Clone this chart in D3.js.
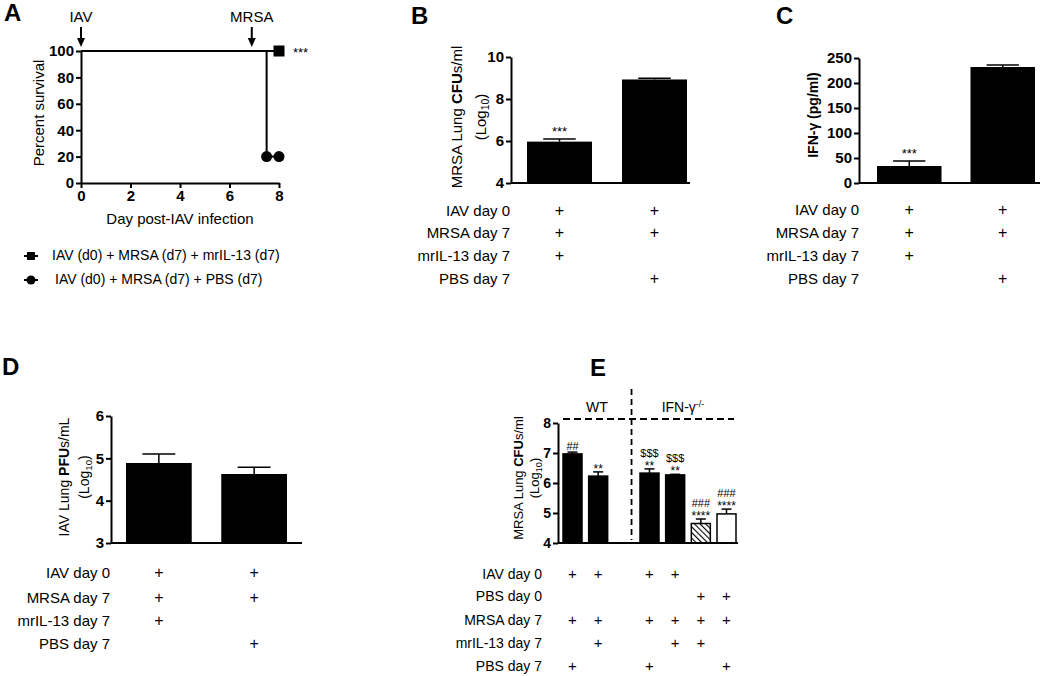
<!DOCTYPE html>
<html><head><meta charset="utf-8">
<script src="https://cdn.jsdelivr.net/npm/d3@7"></script>
<style>
body{margin:0;background:#fff;}
svg{display:block;font-family:Arial,"Liberation Sans",Helvetica,sans-serif;}
</style></head>
<body>
<svg id="c" width="1050" height="676"></svg>
<script>
// ---------- DATA ----------
// Panel A: survival
const survivalTicks = [0, 20, 40, 60, 80, 100];
const dayTicks = [0, 2, 4, 6, 8];
const survIL13 = [[0, 100], [8, 100]];
const survPBS = [[0, 100], [7.5, 100], [7.5, 20], [8, 20]];
const survIL13Markers = [[8, 100]];
const survPBSMarkers = [[7.5, 20], [8, 20]];
const legendLabels = ["IAV (d0) + MRSA (d7) + mrIL-13 (d7)", "IAV (d0) + MRSA (d7) + PBS (d7)"];
// Panel B
const bValues = [5.97, 8.93];
const bErrors = [0.12, 0.06];
const bTicks = [4, 6, 8, 10];
const bStars = ["***", ""];
// Panel C
const cValues = [34, 232];
const cErrors = [10, 4];
const cTicks = [0, 50, 100, 150, 200, 250];
const cStars = ["***", ""];
// Panel D
const dValues = [4.89, 4.63];
const dErrors = [0.21, 0.16];
const dTicks = [3, 4, 5, 6];
// Shared treatment table for B, C, D
const rowLabels3 = ["IAV day 0", "MRSA day 7", "mrIL-13 day 7", "PBS day 7"];
const rowPlus3 = [[1, 1], [1, 1], [1, 0], [0, 1]];
// Panel E
const eSlots = [0, 1, 3, 4, 5, 6];
const eValues = [6.97, 6.23, 6.33, 6.27, 4.65, 4.97];
const eErrors = [0.06, 0.14, 0.14, 0.02, 0.15, 0.16];
const eFill = ["solid", "solid", "solid", "solid", "hatch", "white"];
const eTop = ["##", "", "$$$", "$$$", "###", "###"];
const eStar = ["", "**", "**", "**", "****", "****"];
const eTicks = [4, 5, 6, 7, 8];
const rowLabelsE = ["IAV day 0", "PBS day 0", "MRSA day 7", "mrIL-13 day 7", "PBS day 7"];
const rowPlusE = [
  [1, 1, 1, 1, 0, 0],
  [0, 0, 0, 0, 1, 1],
  [1, 1, 1, 1, 1, 1],
  [0, 1, 0, 1, 1, 0],
  [1, 0, 1, 0, 0, 1]
];

// ---------- DRAW ----------
const FONT = "Arial,'Liberation Sans',Helvetica,sans-serif";
const svg = d3.select("#c");
const defs = svg.append("defs");
const pat = defs.append("pattern").attr("id", "hatch").attr("patternUnits", "userSpaceOnUse")
  .attr("width", 4).attr("height", 4).attr("patternTransform", "rotate(-45)");
pat.append("rect").attr("width", 4).attr("height", 4).attr("fill", "#fff");
pat.append("line").attr("x1", 0).attr("y1", 0).attr("x2", 0).attr("y2", 4)
  .attr("stroke", "#000").attr("stroke-width", 2.2);

function panelLetter(t, x, y) {
  svg.append("text").attr("x", x).attr("y", y).attr("font-size", 24).attr("font-weight", "bold").text(t);
}

function styleAxis(a, fs) {
  a.attr("font-family", FONT);
  a.select(".domain").attr("stroke-width", 2);
  a.selectAll(".tick line").attr("stroke-width", 2);
  a.selectAll(".tick text").attr("font-size", fs).style("font-weight", "bold").attr("fill", "#000")
    .style("font-family", FONT);
}

function yAxis(g, scale, ticks, x, fs) {
  const ax = d3.axisLeft(scale).tickValues(ticks).tickFormat(d3.format("d")).tickSize(5).tickPadding(2).tickSizeOuter(0);
  const a = g.append("g").attr("transform", `translate(${x},0)`).call(ax);
  styleAxis(a, fs);
  return a;
}

function logTitle(g, x1, x2, cy, main, bold, tail, fs) {
  const t = g.append("text").attr("transform", `translate(${x1},${cy}) rotate(-90)`)
    .attr("text-anchor", "middle").attr("font-size", fs);
  t.append("tspan").text(main);
  t.append("tspan").attr("font-weight", "bold").text(bold);
  t.append("tspan").text(tail);
  const t2 = g.append("text").attr("transform", `translate(${x2},${cy}) rotate(-90)`)
    .attr("text-anchor", "middle").attr("font-size", fs);
  t2.append("tspan").text("(Log");
  t2.append("tspan").attr("font-size", fs * 0.7).attr("dy", 3).text("10");
  t2.append("tspan").attr("dy", -3).text(")");
}

function plusTable(g, labels, table, xs, ys, labelX, fs) {
  labels.forEach((l, i) => {
    g.append("text").attr("x", labelX).attr("y", ys[i]).attr("text-anchor", "end")
      .attr("dominant-baseline", "middle").attr("font-size", fs).text(l);
    table[i].forEach((p, j) => {
      if (p) g.append("text").attr("x", xs[j]).attr("y", ys[i]).attr("text-anchor", "middle")
        .attr("dominant-baseline", "middle").attr("font-size", fs + 1).text("+");
    });
  });
}

function barPanel(opt) {
  const g = svg.append("g");
  const y = d3.scaleLinear().domain(opt.domain).range([opt.y0, opt.y1]);
  const x = d3.scaleBand().domain(d3.range(opt.values.length)).range(opt.xr).paddingInner(opt.pad).paddingOuter(0);
  const bw = x.bandwidth();
  opt.values.forEach((v, i) => {
    const cx = x(i) + bw / 2;
    const ye = y(v + opt.errors[i]);
    g.append("line").attr("x1", cx).attr("x2", cx).attr("y1", y(v)).attr("y2", ye).attr("stroke", "#000").attr("stroke-width", 1.5);
    g.append("line").attr("x1", cx - bw * 0.25).attr("x2", cx + bw * 0.25).attr("y1", ye).attr("y2", ye).attr("stroke", "#000").attr("stroke-width", 1.5);
    if (opt.stars && opt.stars[i]) g.append("text").attr("x", cx).attr("y", ye - 3).attr("text-anchor", "middle")
      .attr("font-size", 13).text(opt.stars[i]);
  });
  g.selectAll("rect.bar").data(opt.values).join("rect").attr("class", "bar")
    .attr("x", (d, i) => x(i)).attr("width", bw)
    .attr("y", d => y(d)).attr("height", d => y(opt.domain[0]) - y(d)).attr("fill", "#000");
  g.append("line").attr("x1", opt.axisX).attr("x2", opt.baseEnd).attr("y1", opt.y0).attr("y2", opt.y0)
    .attr("stroke", "#000").attr("stroke-width", 2);
  yAxis(g, y, opt.ticks, opt.axisX, 15);
  const xs = opt.values.map((d, i) => x(i) + bw / 2);
  plusTable(g, rowLabels3, rowPlus3, xs, opt.rowYs, opt.labelX, 15);
  return g;
}

// ---------- Panel A ----------
(function () {
  const g = svg.append("g");
  panelLetter("A", 4, 21);
  const x = d3.scaleLinear().domain([0, 8]).range([81, 279]);
  const y = d3.scaleLinear().domain([0, 100]).range([183, 51]);
  const ax = d3.axisBottom(x).tickValues(dayTicks).tickFormat(d3.format("d")).tickSize(5).tickPadding(2).tickSizeOuter(0);
  const a = g.append("g").attr("transform", "translate(0,183)").call(ax);
  styleAxis(a, 15);
  yAxis(g, y, survivalTicks, 81, 15);
  const line = d3.line().x(d => x(d[0])).y(d => y(d[1]));
  g.append("path").attr("d", line(survPBS)).attr("fill", "none").attr("stroke", "#000").attr("stroke-width", 2);
  g.append("path").attr("d", line(survIL13)).attr("fill", "none").attr("stroke", "#000").attr("stroke-width", 2);
  survIL13Markers.forEach(d => g.append("rect").attr("x", x(d[0]) - 5.5).attr("y", y(d[1]) - 5.5).attr("width", 11).attr("height", 11).attr("fill", "#000"));
  survPBSMarkers.forEach(d => g.append("circle").attr("cx", x(d[0])).attr("cy", y(d[1])).attr("r", 5.5).attr("fill", "#000"));
  g.append("text").attr("x", x(8) + 14).attr("y", y(100) + 6).attr("font-size", 13).text("***");
  [[0, "IAV"], [6.9, "MRSA"]].forEach(([d, lab]) => {
    const cx = x(d);
    g.append("text").attr("x", cx).attr("y", 22).attr("text-anchor", "middle").attr("font-size", 15).text(lab);
    g.append("line").attr("x1", cx).attr("x2", cx).attr("y1", 27).attr("y2", 40).attr("stroke", "#000").attr("stroke-width", 2);
    g.append("path").attr("d", `M${cx - 4},38 L${cx + 4},38 L${cx},47 Z`).attr("fill", "#000");
  });
  g.append("text").attr("transform", "translate(44,113) rotate(-90)").attr("text-anchor", "middle").attr("font-size", 15).text("Percent survival");
  g.append("text").attr("x", 180).attr("y", 224).attr("text-anchor", "middle").attr("font-size", 15).text("Day post-IAV infection");
  const ly = [256, 280];
  g.append("line").attr("x1", 24).attr("x2", 38).attr("y1", ly[0]).attr("y2", ly[0]).attr("stroke", "#000").attr("stroke-width", 2);
  g.append("rect").attr("x", 27).attr("y", ly[0] - 4).attr("width", 8).attr("height", 8).attr("fill", "#000");
  g.append("line").attr("x1", 24).attr("x2", 38).attr("y1", ly[1]).attr("y2", ly[1]).attr("stroke", "#000").attr("stroke-width", 2);
  g.append("circle").attr("cx", 31).attr("cy", ly[1]).attr("r", 4.5).attr("fill", "#000");
  legendLabels.forEach((l, i) => g.append("text").attr("x", i === 0 ? 52 : 55).attr("y", ly[i]).attr("dominant-baseline", "middle").attr("font-size", 14).text(l));
})();

// ---------- Panel B ----------
panelLetter("B", 411, 24);
(function () {
  const g = barPanel({ values: bValues, errors: bErrors, domain: [4, 10], ticks: bTicks, y0: 183, y1: 57,
    xr: [527, 687], pad: 0.316, axisX: 511, baseEnd: 690, stars: bStars,
    rowYs: [212, 234, 257, 280], labelX: 510 });
  logTitle(g, 462, 486, 117, "MRSA Lung ", "CFU", "s/ml", 15);
})();

// ---------- Panel C ----------
panelLetter("C", 776, 24);
(function () {
  const g = barPanel({ values: cValues, errors: cErrors, domain: [0, 250], ticks: cTicks, y0: 183, y1: 58,
    xr: [877, 1035], pad: 0.31, axisX: 859, baseEnd: 1040, stars: cStars,
    rowYs: [211, 234, 257, 280], labelX: 859 });
  g.append("text").attr("transform", "translate(818,115) rotate(-90)").attr("text-anchor", "middle")
    .attr("font-size", 14).attr("font-weight", "bold").text("IFN-γ (pg/ml)");
})();

// ---------- Panel D ----------
panelLetter("D", 2, 375);
(function () {
  const g = barPanel({ values: dValues, errors: dErrors, domain: [3, 6], ticks: dTicks, y0: 543, y1: 416,
    xr: [126, 287], pad: 0.31, axisX: 111, baseEnd: 302,
    rowYs: [574, 599, 622, 645], labelX: 110 });
  logTitle(g, 69, 89, 477, "IAV Lung ", "PFU", "s/mL", 14);
})();

// ---------- Panel E ----------
panelLetter("E", 590, 376);
(function () {
  const g = svg.append("g");
  const y = d3.scaleLinear().domain([4, 8]).range([543, 423]);
  const x = d3.scaleLinear().domain([0, 6]).range([572.5, 726.5]);
  const bw = 19;
  eValues.forEach((v, i) => {
    const cx = x(eSlots[i]);
    const ye = y(v + eErrors[i]);
    g.append("line").attr("x1", cx).attr("x2", cx).attr("y1", y(v)).attr("y2", ye).attr("stroke", "#000").attr("stroke-width", 1.5);
    g.append("line").attr("x1", cx - 5).attr("x2", cx + 5).attr("y1", ye).attr("y2", ye).attr("stroke", "#000").attr("stroke-width", 1.5);
    let ty = ye - 2;
    if (eStar[i]) { g.append("text").attr("x", cx).attr("y", ty + 3).attr("text-anchor", "middle").attr("font-size", 12).text(eStar[i]); ty -= 10; }
    if (eTop[i]) g.append("text").attr("x", cx).attr("y", ty).attr("text-anchor", "middle").attr("font-size", 11).text(eTop[i]);
  });
  g.selectAll("rect.bar").data(eValues).join("rect").attr("class", "bar")
    .attr("x", (d, i) => x(eSlots[i]) - bw / 2).attr("width", bw)
    .attr("y", d => y(d)).attr("height", d => y(4) - y(d))
    .attr("fill", (d, i) => eFill[i] === "solid" ? "#000" : eFill[i] === "hatch" ? "url(#hatch)" : "#fff")
    .attr("stroke", "#000").attr("stroke-width", 1.5);
  g.append("line").attr("x1", 558).attr("x2", 738).attr("y1", 543).attr("y2", 543).attr("stroke", "#000").attr("stroke-width", 2);
  yAxis(g, y, eTicks, 558, 14);
  const sepX = x(2.3);
  g.append("line").attr("x1", sepX).attr("x2", sepX).attr("y1", 389).attr("y2", 540).attr("stroke", "#000").attr("stroke-width", 1.8).attr("stroke-dasharray", "6,4");
  g.append("line").attr("x1", 563).attr("x2", 734).attr("y1", 419).attr("y2", 419).attr("stroke", "#000").attr("stroke-width", 1.8).attr("stroke-dasharray", "7,4");
  g.append("text").attr("x", 597).attr("y", 412).attr("text-anchor", "middle").attr("font-size", 14).text("WT");
  const t = g.append("text").attr("x", 683).attr("y", 412).attr("text-anchor", "middle").attr("font-size", 14);
  t.append("tspan").text("IFN-γ");
  t.append("tspan").attr("font-size", 9).attr("dy", -5).text("-/-");
  logTitle(g, 523, 539, 478, "MRSA Lung ", "CFU", "s/ml", 13);
  plusTable(g, rowLabelsE, rowPlusE, eSlots.map(s => x(s)), [575, 597, 621, 644, 667], 542, 14);
})();
</script>
</body></html>
